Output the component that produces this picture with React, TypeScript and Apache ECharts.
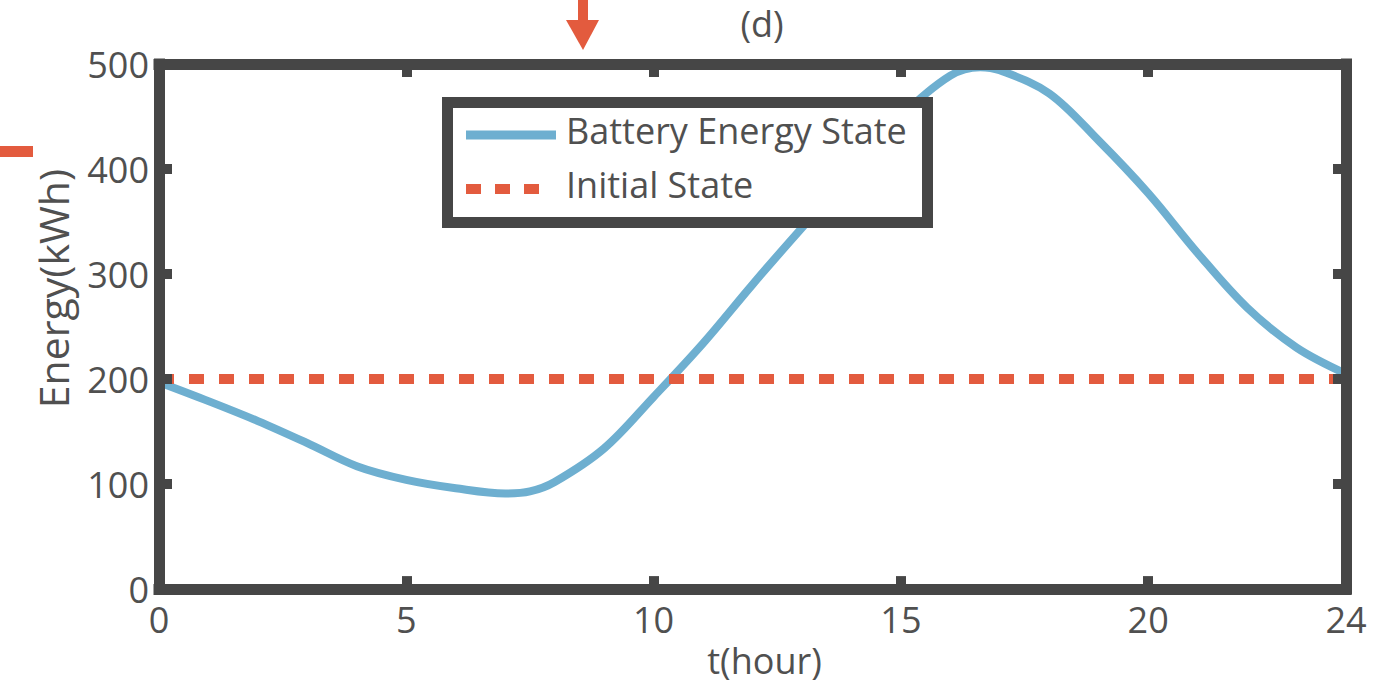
import React, { useEffect, useRef } from "react";
import * as echarts from "echarts";

// Battery energy over the day (hours, kWh)
const hours = [0, 1, 2, 3, 4, 5, 6, 7, 7.5, 8, 9, 10, 11, 12, 13, 14, 15, 16, 16.6, 17, 18, 19, 20, 21, 22, 23, 24];
const energy = [197, 179, 160, 139, 117, 104, 96, 91, 93, 102, 134, 183, 234, 290, 344, 396, 450, 489, 497, 494, 472, 427, 377, 320, 268, 230, 205];

// Initial state reference level
const initialHours = [0, 24];
const initialEnergy = [200, 200];

const xLabelValues = [0, 5, 10, 15, 20, 24];
const xTickValues = [5, 10, 15, 20];
const yTickValues = [100, 200, 300, 400];

const seriesNames = ["Battery Energy State", "Initial State"];

const AXIS = "#464646";
const TEXT = "#505050";
const BLUE = "#6EAFD0";
const ORANGE = "#E35B3E";
const FONT = "Open Sans";

export default function App() {
  const ref = useRef<HTMLDivElement>(null);

  useEffect(() => {
    if (!ref.current) return;
    const chart = echarts.init(ref.current, null, { renderer: "svg" });

    const axisLine = { show: true, onZero: false, lineStyle: { color: AXIS, width: 11, cap: "square" } };
    const tickStyle = { color: AXIS, width: 10 };

    chart.setOption({
      animation: false,
      backgroundColor: "#ffffff",
      textStyle: { fontFamily: FONT },
      title: {
        text: "(d)",
        left: 757,
        top: 0,
        textAlign: "center",
        textStyle: { fontFamily: FONT, fontSize: 36, fontWeight: "normal", color: TEXT },
      },
      grid: { left: 159, top: 64, width: 1187, height: 529, containLabel: false },
      xAxis: [
        {
          type: "value",
          position: "bottom",
          min: 0,
          max: 24,
          z: 3,
          splitLine: { show: false },
          axisLine,
          axisTick: { show: true, inside: true, length: 13, lineStyle: tickStyle, customValues: xTickValues },
          axisLabel: {
            show: true,
            customValues: xLabelValues,
            margin: 12,
            fontFamily: FONT,
            fontSize: 36,
            color: TEXT,
          },
          name: "t(hour)",
          nameLocation: "middle",
          nameGap: 42,
          nameTextStyle: { fontFamily: FONT, fontSize: 36, color: TEXT, padding: [0, 0, 0, 24] },
        },
        {
          type: "value",
          position: "top",
          min: 0,
          max: 24,
          z: 3,
          splitLine: { show: false },
          axisLine,
          axisTick: { show: true, inside: true, length: 13, lineStyle: tickStyle, customValues: xTickValues },
          axisLabel: { show: false },
        },
      ],
      yAxis: [
        {
          type: "value",
          position: "left",
          min: 0,
          max: 500,
          interval: 100,
          z: 3,
          splitLine: { show: false },
          axisLine,
          axisTick: { show: true, inside: true, length: 13, lineStyle: tickStyle, customValues: yTickValues },
          axisLabel: { show: true, margin: 10, fontFamily: FONT, fontSize: 36, color: TEXT },
          name: "Energy(kWh)",
          nameLocation: "middle",
          nameGap: 86,
          nameRotate: 90,
          nameTextStyle: { fontFamily: FONT, fontSize: 41, color: TEXT, padding: [0, 0, 0, 76] },
        },
        {
          type: "value",
          position: "right",
          min: 0,
          max: 500,
          interval: 100,
          z: 3,
          splitLine: { show: false },
          axisLine,
          axisTick: { show: true, inside: true, length: 13, lineStyle: tickStyle, customValues: yTickValues },
          axisLabel: { show: false },
        },
      ],
      series: [
        {
          name: seriesNames[0],
          type: "line",
          data: hours.map((h, i) => [h, energy[i]]),
          smooth: 0.35,
          showSymbol: false,
          symbol: "none",
          clip: false,
          lineStyle: { color: BLUE, width: 8 },
          z: 2,
        },
        {
          name: seriesNames[1],
          type: "line",
          data: initialHours.map((h, i) => [h, initialEnergy[i]]),
          showSymbol: false,
          symbol: "none",
          lineStyle: { color: ORANGE, width: 10, type: [15, 15] },
          z: 2,
        },
      ],
      graphic: [
        // legend box
        {
          type: "group",
          z: 20,
          children: [
            {
              type: "rect",
              shape: { x: 447.5, y: 102.5, width: 480, height: 120 },
              style: { fill: "#ffffff", stroke: AXIS, lineWidth: 11, lineJoin: "miter" },
              z: 20,
            },
            {
              type: "line",
              shape: { x1: 466, y1: 135, x2: 556, y2: 135 },
              style: { stroke: BLUE, lineWidth: 9 },
              z: 21,
            },
            {
              type: "line",
              shape: { x1: 466, y1: 189, x2: 545, y2: 189 },
              style: { stroke: ORANGE, lineWidth: 10, lineDash: [15, 14] },
              z: 21,
            },
            {
              type: "text",
              x: 566,
              y: 130,
              style: {
                text: seriesNames[0],
                font: `36px "${FONT}"`,
                fill: TEXT,
                textVerticalAlign: "middle",
              },
              z: 21,
            },
            {
              type: "text",
              x: 566,
              y: 184,
              style: {
                text: seriesNames[1],
                font: `36px "${FONT}"`,
                fill: TEXT,
                textVerticalAlign: "middle",
              },
              z: 21,
            },
          ],
        },
        // orange marks at the edges of the figure
        {
          type: "rect",
          shape: { x: 578, y: 0, width: 10, height: 22 },
          style: { fill: ORANGE },
          z: 20,
        },
        {
          type: "polygon",
          shape: { points: [[566, 20], [599, 20], [583, 50]] },
          style: { fill: ORANGE },
          z: 20,
        },
        {
          type: "rect",
          shape: { x: 0, y: 146, width: 33, height: 11 },
          style: { fill: ORANGE },
          z: 20,
        },
      ],
    });

    return () => chart.dispose();
  }, []);

  return (
    <div
      ref={ref}
      style={{ position: "absolute", left: 0, top: 0, width: 1396, height: 683 }}
    />
  );
}
